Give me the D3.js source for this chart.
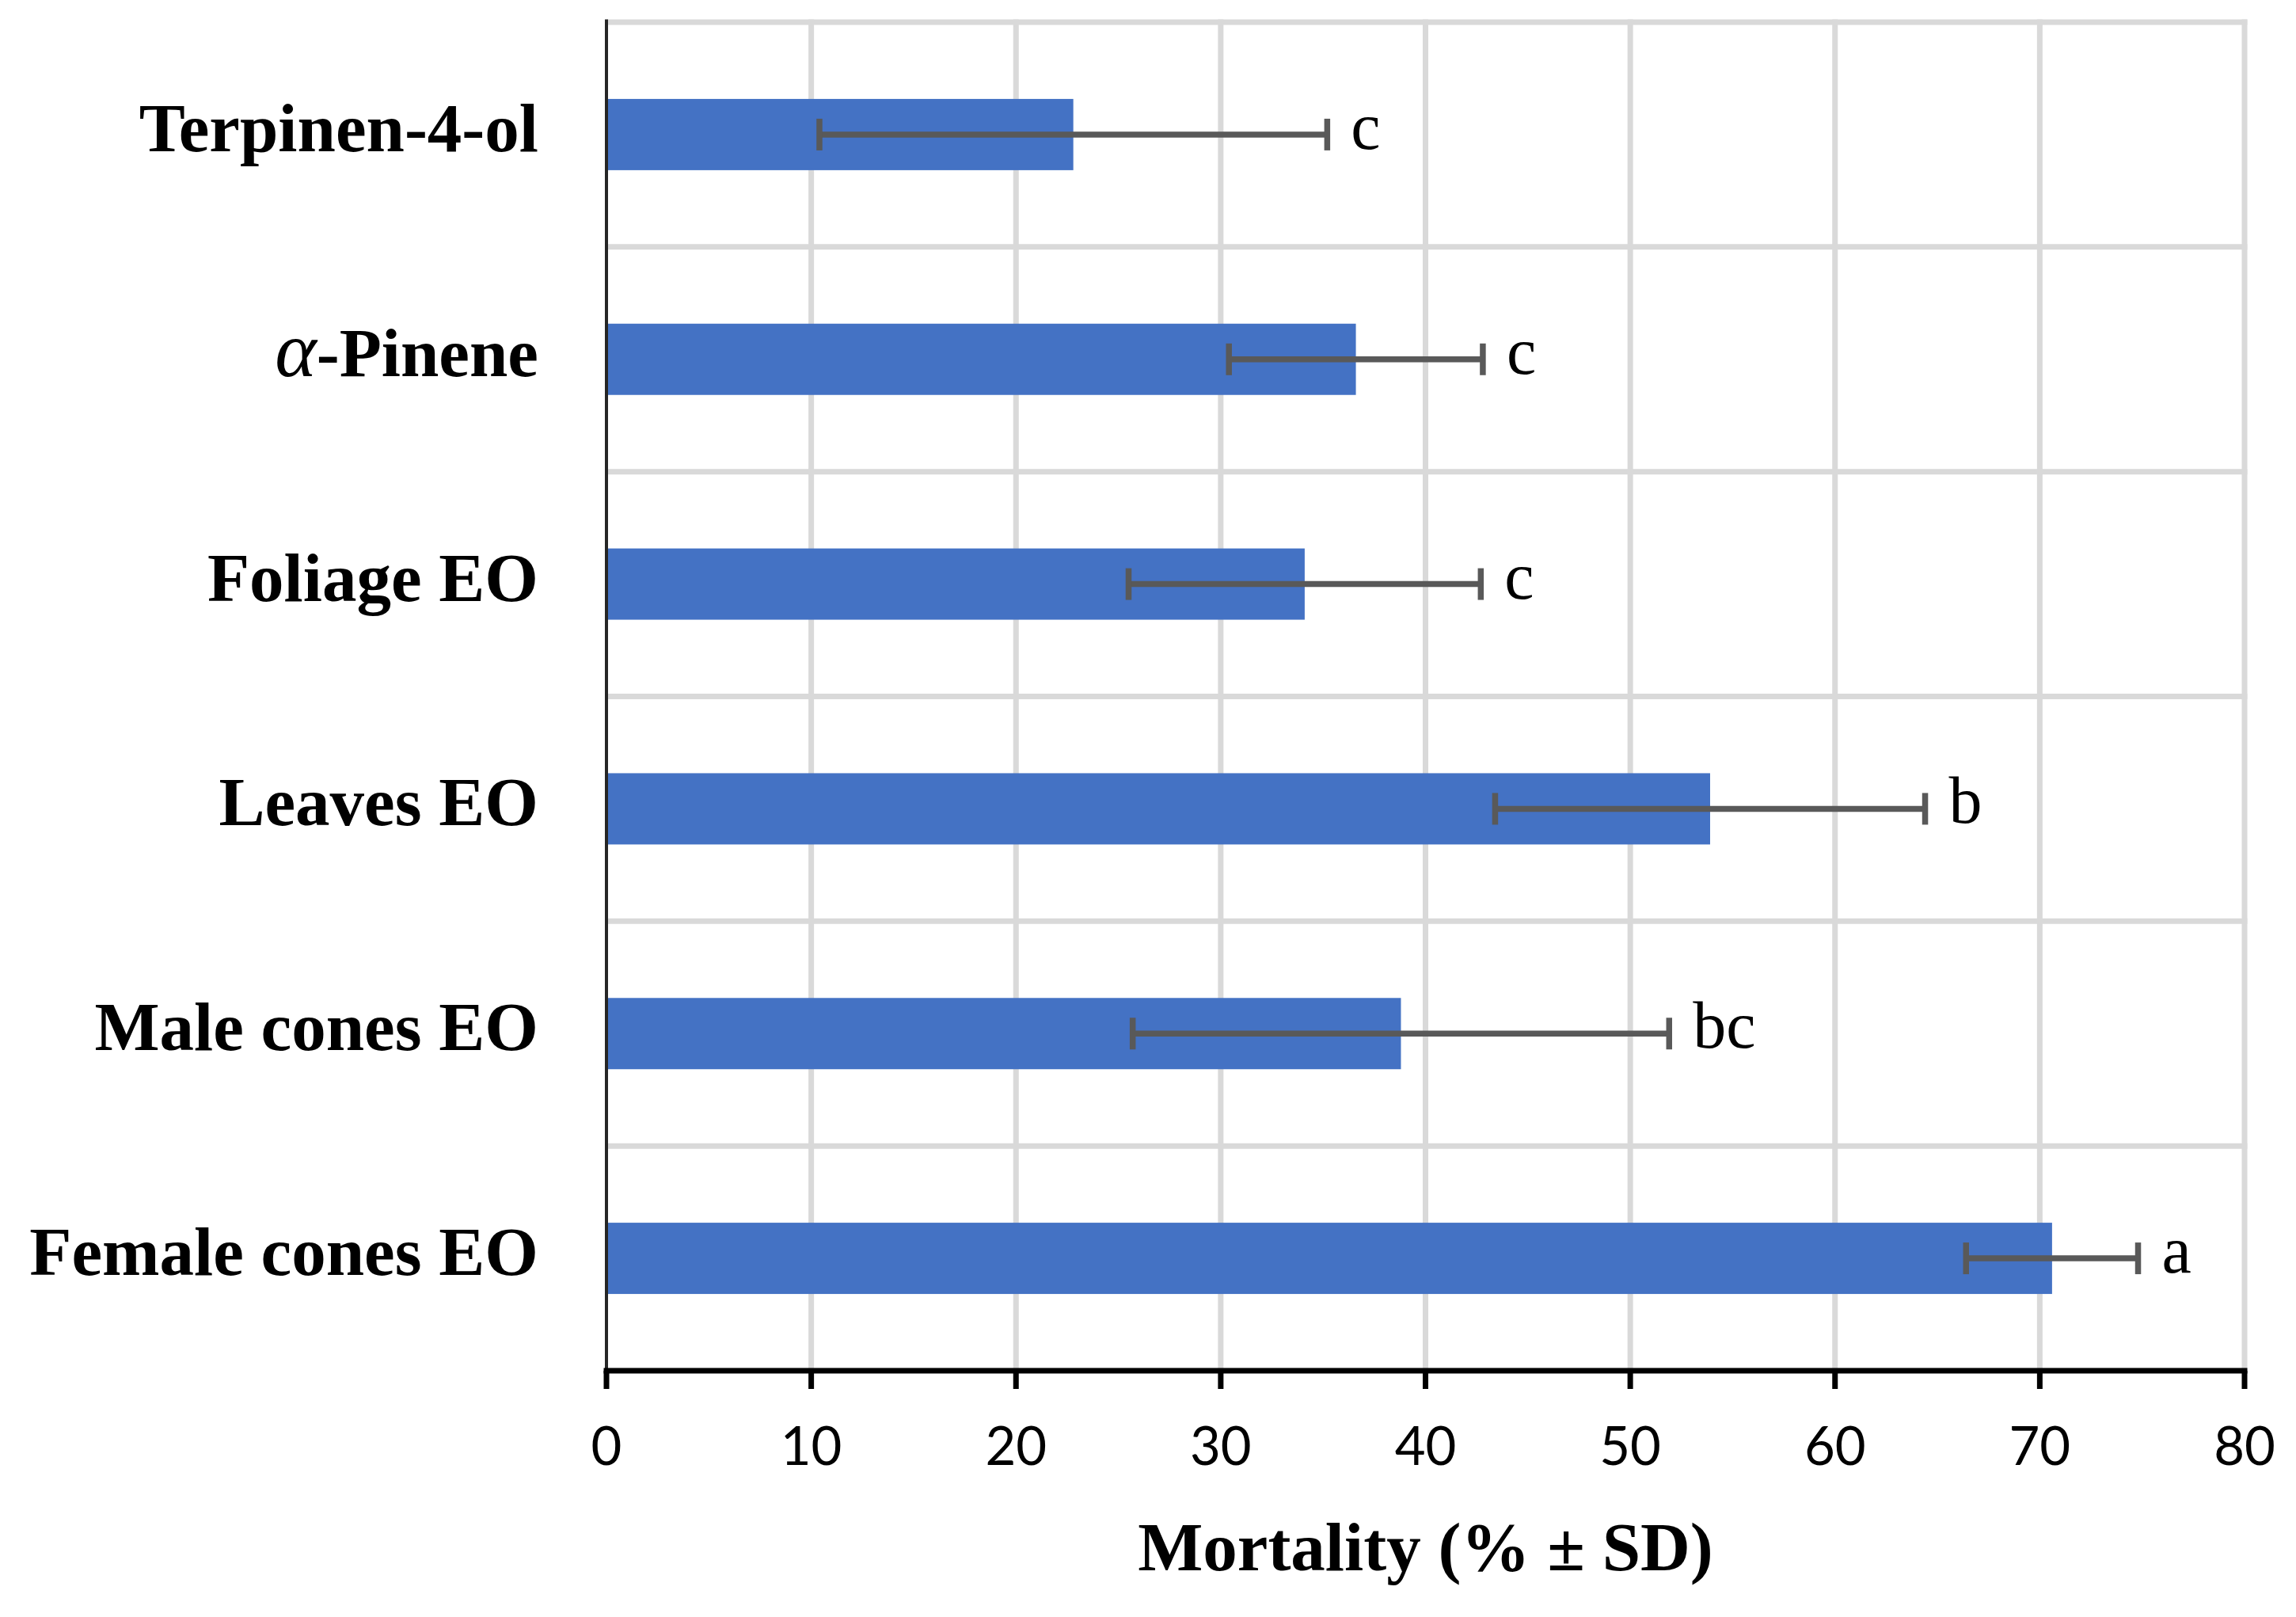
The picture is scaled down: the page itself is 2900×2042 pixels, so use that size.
<!DOCTYPE html>
<html lang="en">
<head>
    <meta charset="UTF-8">
    <title>Mortality (% ± SD)</title>
    <style>
        body {
            margin: 0;
            padding: 0;
            background-color: #ffffff;
        }
        .cat-label {
            font-family: "Liberation Serif", "Times New Roman", serif;
            font-weight: bold;
            font-size: 87px;
            fill: #000000;
        }
        .sig-label {
            font-family: "Liberation Serif", "Times New Roman", serif;
            font-size: 84px;
            fill: #000000;
        }
        .tick-label {
            font-family: Lato, "Open Sans", sans-serif;
            font-size: 67px;
            fill: #000000;
        }
        .axis-title {
            font-family: "Liberation Serif", "Times New Roman", serif;
            font-weight: bold;
            font-size: 87px;
            fill: #000000;
        }
    </style>
</head>
<body>
    <div id="chart"></div>

    <script src="https://d3js.org/d3.v7.min.js"></script>
    <script>
        // Data (top to bottom)
        const categories = ["Terpinen-4-ol", "α-Pinene", "Foliage EO", "Leaves EO", "Male cones EO", "Female cones EO"];
        const mortality = [22.8, 36.6, 34.1, 53.9, 38.8, 70.6];
        const sd = [12.4, 6.2, 8.6, 10.5, 13.1, 4.2];
        const letters = ["c", "c", "c", "b", "bc", "a"];
        const xTicks = [0, 10, 20, 30, 40, 50, 60, 70, 80];

        const width = 2900;
        const height = 2042;
        const margin = {top: 28, right: 65, bottom: 311, left: 766};

        const svg = d3.select("#chart").append("svg")
            .attr("width", width)
            .attr("height", height)
            .style("display", "block")
            .style("background-color", "#ffffff");

        const x = d3.scaleLinear()
            .domain([0, 80])
            .range([margin.left, width - margin.right]);

        const y = d3.scaleBand()
            .domain(categories)
            .range([margin.top, height - margin.bottom])
            .padding(0);

        const barH = y.bandwidth() * 0.317;
        const capH = 40;

        // Gridlines
        const grid = svg.append("g").attr("class", "grid");

        grid.selectAll("line.v")
            .data(xTicks.slice(1))
            .enter().append("line")
            .attr("class", "v")
            .attr("x1", d => x(d))
            .attr("x2", d => x(d))
            .attr("y1", margin.top - 3.5)
            .attr("y2", height - margin.bottom)
            .attr("stroke", "#d9d9d9")
            .attr("stroke-width", 7);

        grid.selectAll("line.h")
            .data(categories)
            .enter().append("line")
            .attr("class", "h")
            .attr("x1", x(0))
            .attr("x2", x(80) + 3.5)
            .attr("y1", d => y(d))
            .attr("y2", d => y(d))
            .attr("stroke", "#d9d9d9")
            .attr("stroke-width", 7);

        // Bars
        svg.append("g")
            .selectAll("rect")
            .data(categories)
            .enter().append("rect")
            .attr("x", x(0))
            .attr("y", d => y(d) + y.bandwidth() / 2 - barH / 2)
            .attr("width", (d, i) => x(mortality[i]) - x(0))
            .attr("height", barH)
            .attr("fill", "#4472c4");

        // Error bars
        const err = svg.append("g").attr("class", "errors");
        categories.forEach((c, i) => {
            const cy = y(c) + y.bandwidth() / 2;
            const lo = x(mortality[i] - sd[i]);
            const hi = x(mortality[i] + sd[i]);
            err.append("line")
                .attr("x1", lo).attr("x2", hi)
                .attr("y1", cy).attr("y2", cy)
                .attr("stroke", "#595959")
                .attr("stroke-width", 7.5);
            [lo, hi].forEach(px => {
                err.append("line")
                    .attr("x1", px).attr("x2", px)
                    .attr("y1", cy - capH / 2).attr("y2", cy + capH / 2)
                    .attr("stroke", "#595959")
                    .attr("stroke-width", 7.5);
            });
            err.append("text")
                .attr("class", "sig-label")
                .attr("x", hi + 30)
                .attr("y", cy + 18)
                .text(letters[i]);
        });

        // Y axis line
        svg.append("line")
            .attr("x1", x(0)).attr("x2", x(0))
            .attr("y1", margin.top - 3.5)
            .attr("y2", height - margin.bottom)
            .attr("stroke", "#262626")
            .attr("stroke-width", 4);

        // Category labels
        const catLabels = svg.append("g")
            .selectAll("text")
            .data(categories)
            .enter().append("text")
            .attr("class", "cat-label")
            .attr("text-anchor", "end")
            .attr("x", x(0) - 86)
            .attr("y", d => y(d) + y.bandwidth() / 2 + 21);

        catLabels.each(function(d) {
            const t = d3.select(this);
            if (d.startsWith("α")) {
                t.append("tspan")
                    .style("font-style", "italic")
                    .style("font-weight", "normal")
                    .style("font-size", "100px")
                    .text("α");
                t.append("tspan").text(d.slice(1));
            } else {
                t.text(d);
            }
        });

        // X axis
        const axisY = height - margin.bottom;
        const xAxis = svg.append("g").attr("class", "x-axis");

        xAxis.append("line")
            .attr("x1", x(0) - 3.5)
            .attr("x2", x(80) + 3.5)
            .attr("y1", axisY)
            .attr("y2", axisY)
            .attr("stroke", "#000000")
            .attr("stroke-width", 7);

        xAxis.selectAll("line.tick")
            .data(xTicks)
            .enter().append("line")
            .attr("class", "tick")
            .attr("x1", d => x(d))
            .attr("x2", d => x(d))
            .attr("y1", axisY)
            .attr("y2", axisY + 23)
            .attr("stroke", "#000000")
            .attr("stroke-width", 7);

        xAxis.selectAll("text")
            .data(xTicks)
            .enter().append("text")
            .attr("class", "tick-label")
            .attr("text-anchor", "middle")
            .attr("x", d => x(d))
            .attr("y", axisY + 119)
            .text(d => d);

        // Axis title
        svg.append("text")
            .attr("class", "axis-title")
            .attr("text-anchor", "middle")
            .attr("x", (x(0) + x(80)) / 2)
            .attr("y", 1983)
            .text("Mortality (% ± SD)");
    </script>
</body>
</html>
